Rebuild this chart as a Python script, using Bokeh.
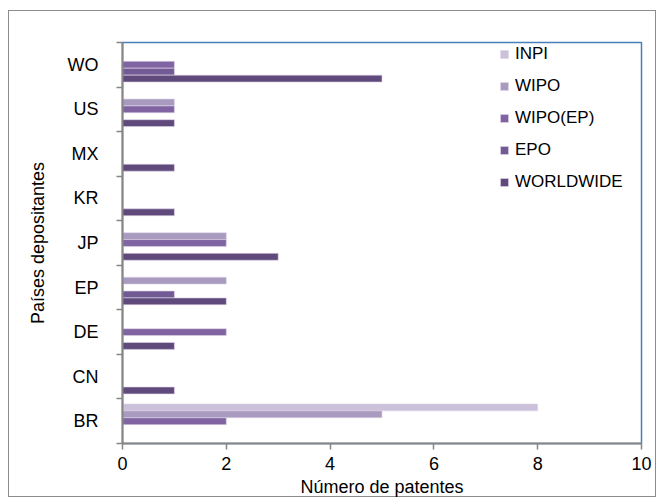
from bokeh.plotting import figure
from bokeh.models import ColumnDataSource, Range1d, FixedTicker, Legend, LegendItem
from bokeh.embed import file_html
from bokeh.resources import INLINE

# Filing countries (bottom to top) and patent counts per database
countries = ["BR", "CN", "DE", "EP", "JP", "KR", "MX", "US", "WO"]
series_names = ["INPI", "WIPO", "WIPO(EP)", "EPO", "WORLDWIDE"]
inpi = [8, 0, 0, 0, 0, 0, 0, 0, 0]
wipo = [5, 0, 0, 2, 2, 0, 0, 1, 0]
wipo_ep = [2, 0, 2, 0, 2, 0, 0, 1, 1]
epo = [0, 0, 0, 1, 0, 0, 0, 0, 1]
worldwide = [0, 1, 1, 2, 3, 1, 1, 1, 5]
x_ticks = [0, 2, 4, 6, 8, 10]

series_values = [inpi, wipo, wipo_ep, epo, worldwide]
colors = ["#ccc1da", "#a99bc0", "#8064a2", "#725a94", "#5f4a7b"]
offsets = [0.31, 0.155, 0.0, -0.155, -0.31]
bar_h = 0.155

FONT = "Liberation Sans"
FS = "18px"
BORDER = "#8c8c8c"

# outer chart border painted on the page behind a transparent canvas edge
g = f"linear-gradient({BORDER},{BORDER})"
page_bg = ", ".join([
    f"{g} 8px 10px / 648px 1px no-repeat",
    f"{g} 8px 496px / 648px 1px no-repeat",
    f"{g} 8px 10px / 1px 487px no-repeat",
    f"{g} 655px 10px / 1px 487px no-repeat",
    "white",
])

p = figure(width=660, height=499, output_backend="svg", toolbar_location=None,
           x_range=Range1d(0, 10), y_range=Range1d(0, len(countries)),
           min_border_left=122, min_border_right=19, min_border_top=42,
           min_border_bottom=56, background_fill_color="white",
           border_fill_color=None, outline_line_color="#4a7ebb",
           outline_line_width=1.5)
p.styles = {"background": page_bg}
p.grid.visible = False

renderers = []
for name, vals, col, off in zip(series_names, series_values, colors, offsets):
    src = ColumnDataSource(dict(y=[i + 0.5 + off for i in range(len(countries))],
                                right=vals))
    r = p.hbar(y="y", left=0, right="right", height=bar_h, source=src,
               fill_color=col, line_color="#ddd5e8", line_width=0.6)
    renderers.append((name, r))

# x axis
xa = p.xaxis[0]
xa.ticker = FixedTicker(ticks=x_ticks, minor_ticks=[])
xa.axis_line_color = "#868686"
xa.axis_line_width = 2
xa.major_tick_line_color = "#868686"
xa.major_tick_line_width = 1.5
xa.major_tick_out = 6
xa.major_tick_in = 0
xa.major_label_text_font = FONT
xa.major_label_text_font_size = FS
xa.major_label_text_color = "black"
xa.major_label_standoff = 7
xa.axis_label = "Número de patentes"
xa.axis_label_text_font = FONT
xa.axis_label_text_font_size = FS
xa.axis_label_text_font_style = "normal"
xa.axis_label_text_color = "black"
xa.axis_label_standoff = 4

# y axis: labels at category centres, ticks at category boundaries
ya = p.yaxis[0]
ya.ticker = FixedTicker(ticks=[i + 0.5 for i in range(len(countries))],
                        minor_ticks=list(range(len(countries) + 1)))
ya.major_label_overrides = {i + 0.5: c for i, c in enumerate(countries)}
ya.axis_line_color = "#868686"
ya.axis_line_width = 2
ya.major_tick_out = 0
ya.major_tick_in = 0
ya.major_tick_line_color = None
ya.minor_tick_out = 6
ya.minor_tick_in = 0
ya.minor_tick_line_color = "#868686"
ya.minor_tick_line_width = 1.5
ya.major_label_text_font = FONT
ya.major_label_text_font_size = FS
ya.major_label_text_color = "black"
ya.major_label_standoff = 18
ya.axis_label = "Países depositantes"
ya.axis_label_text_font = FONT
ya.axis_label_text_font_size = FS
ya.axis_label_text_font_style = "normal"
ya.axis_label_text_color = "black"
ya.axis_label_standoff = 17

legend = Legend(items=[LegendItem(label=n, renderers=[r]) for n, r in renderers],
                location=(377, 250), orientation="vertical",
                border_line_color=None, background_fill_alpha=0,
                label_text_font=FONT, label_text_font_size="17px",
                label_text_color="black", glyph_width=10, glyph_height=10,
                label_height=22, spacing=10, padding=0, margin=0,
                label_standoff=6)
p.add_layout(legend)

open("out.html", "w").write(file_html(p, INLINE))
